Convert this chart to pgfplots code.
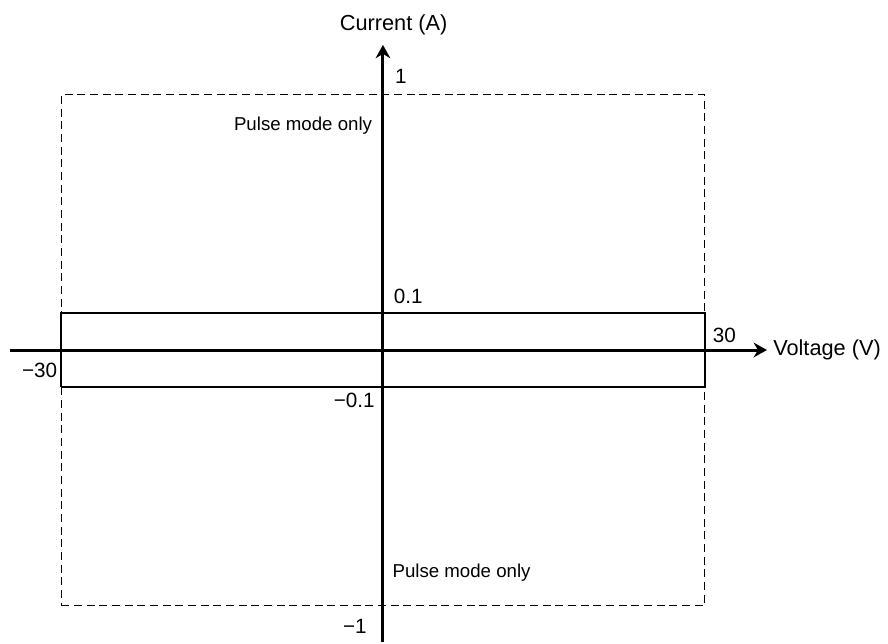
\documentclass[border=0pt]{standalone}
\usepackage{fontspec}
\setmainfont{Liberation Sans}
\usepackage{pgfplots}
\pgfplotsset{compat=1.18}
\usetikzlibrary{arrows.meta}

\begin{document}
\begin{tikzpicture}
\begin{axis}[
    scale only axis,
    width=666pt, height=481.5pt,
    xmin=-35.73, xmax=47.12,
    ymin=-1.150, ymax=1.3885,
    hide axis, clip=false,
    % schematic current axis: |I|<=0.1 stretched, rest compressed
    y coord trafo/.code={\pgfmathparse{abs(#1)<=0.1 ? 1.43*(#1) : ((#1)<0 ? -1 : 1)*(0.143+(abs(#1)-0.1)*0.9522)}},
]
% keep the full axis box as the picture's extent
\path (rel axis cs:0,0) rectangle (rel axis cs:1,1);
% pulse-mode envelope
\addplot[black, line width=1.35pt, dash pattern=on 6pt off 3.5pt, line join=miter]
  coordinates {(-30,-1) (30,-1) (30,1) (-30,1) (-30,-1)};
% DC range
\addplot[black, line width=1.5pt, line join=miter]
  coordinates {(-30,-0.1) (30,-0.1) (30,0.1) (-30,0.1) (-30,-0.1)};
% axes
\addplot[black, line width=2.25pt, -{Stealth[length=10pt,width=11pt]}]
  coordinates {(-34.8,0) (35.83,0)};
\addplot[black, line width=2.25pt, -{Stealth[length=10pt,width=11pt]}]
  coordinates {(0,-1.15) (0,1.204)};

\tikzset{num/.style={inner sep=0pt, font=\fontsize{15.5}{18}\selectfont},
         lab/.style={inner sep=0pt, font=\fontsize{16.3}{19}\selectfont},
         note/.style={inner sep=0pt, font=\fontsize{14}{17}\selectfont}}
\node[num, anchor=south west, xshift=9pt, yshift=8pt] at (axis cs:0,1) {1};
\node[num, anchor=south west, xshift=8pt, yshift=7.5pt] at (axis cs:0,0.1) {0.1};
\node[num, anchor=north east, xshift=-6pt, yshift=-5pt] at (axis cs:0,-0.1) {−0.1};
\node[num, anchor=north east, xshift=-12pt, yshift=-10pt] at (axis cs:0,-1) {−1};
\node[num, anchor=north east, xshift=-3pt, yshift=-9.5pt] at (axis cs:-30,0) {−30};
\node[num, anchor=south west, xshift=6pt, yshift=5pt] at (axis cs:30,0) {30};
\node[lab, anchor=west, xshift=4.5pt] at (axis cs:35.83,0) {Voltage (V)};
\node[lab, anchor=south, xshift=8pt, yshift=7.5pt] at (axis cs:0,1.204) {Current (A)};
\node[note, anchor=north east, xshift=-8pt, yshift=-16.5pt] at (axis cs:0,1) {Pulse mode only};
\node[note, anchor=south west, xshift=7pt, yshift=18pt] at (axis cs:0,-1) {Pulse mode only};
\end{axis}
\end{tikzpicture}
\end{document}
